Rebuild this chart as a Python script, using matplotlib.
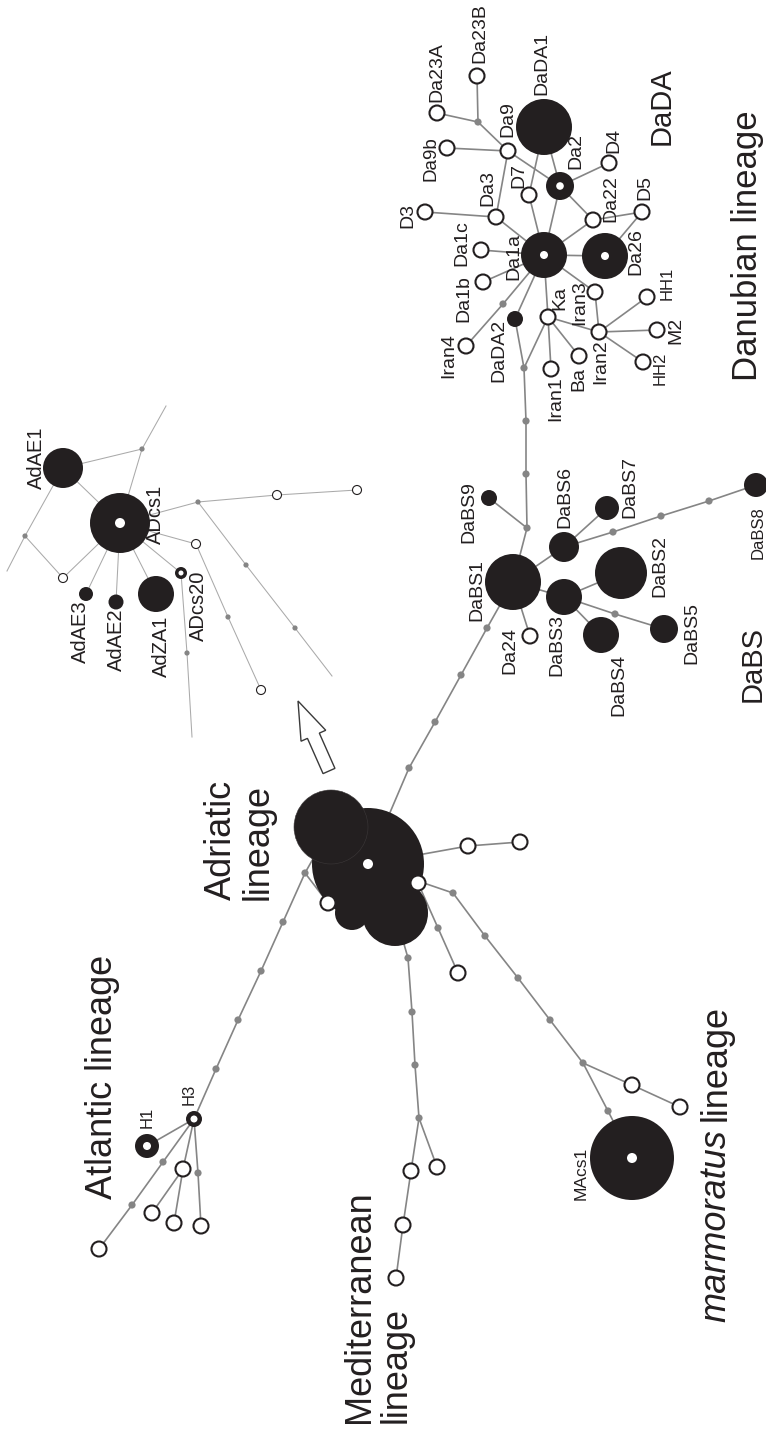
import matplotlib
matplotlib.use('Agg')
import matplotlib.pyplot as plt
from matplotlib.patches import Circle, FancyArrow

plt.rcParams['font.family'] = ['Liberation Sans', 'DejaVu Sans']

W, H = 766, 1431
BLACK = '#231f20'
EDGE = '#858585'
INSET_EDGE = '#aaaaaa'
MEDIAN = '#858585'

# ---------------- data: haplotype nodes (name, x, y, radius, kind) ----------
# kind: f = filled, o = open, r = ring (filled with hole), m = median vector, e = line end
dada_nodes = [
    ('DaDA1', 544, 127, 28, 'f'), ('Da2', 560, 186, 14, 'r'), ('D4', 609, 163, 7, 'o'),
    ('Da9', 508, 151, 7, 'o'), ('Da9b', 447, 148, 7, 'o'), ('Da23A', 437, 113, 7, 'o'),
    ('Da23B', 477, 76, 7, 'o'), ('m1', 478, 122, 0, 'm'), ('D7', 529, 195, 7, 'o'),
    ('Da3', 496, 217, 7, 'o'), ('D3', 425, 212, 7, 'o'), ('Da22', 593, 220, 7, 'o'),
    ('D5', 642, 212, 7, 'o'), ('Da1a', 544, 255, 23, 'r'), ('Da26', 605, 256, 23, 'r'),
    ('Da1c', 481, 250, 7, 'o'), ('Da1b', 483, 282, 7, 'o'), ('Iran3', 595, 292, 7, 'o'),
    ('HH1', 647, 297, 7, 'o'), ('Ka', 548, 317, 7, 'o'), ('DaDA2', 515, 319, 8, 'f'),
    ('m2', 503, 304, 0, 'm'), ('Iran4', 466, 346, 7, 'o'), ('Iran2', 599, 332, 7, 'o'),
    ('M2', 657, 330, 7, 'o'), ('HH2', 643, 362, 7, 'o'), ('m3', 524, 368, 0, 'm'),
    ('Iran1', 551, 369, 7, 'o'), ('Ba', 579, 356, 7, 'o'),
]
dabs_nodes = [
    ('m4', 526, 421, 0, 'm'), ('m5', 526, 474, 0, 'm'), ('m6', 527, 528, 0, 'm'),
    ('DaBS9', 489, 498, 8, 'f'), ('DaBS1', 513, 582, 28, 'f'), ('DaBS6', 564, 547, 15, 'f'),
    ('DaBS7', 607, 508, 12, 'f'), ('m7', 613, 532, 0, 'm'), ('m8', 661, 516, 0, 'm'),
    ('m9', 709, 501, 0, 'm'), ('DaBS8', 756, 485, 12, 'f'), ('DaBS2', 621, 573, 26, 'f'),
    ('DaBS3', 564, 597, 18, 'f'), ('DaBS4', 601, 635, 18, 'f'), ('m10', 615, 614, 0, 'm'),
    ('DaBS5', 664, 629, 14, 'f'), ('Da24', 530, 636, 7, 'o'), ('m11', 487, 628, 0, 'm'),
    ('m12', 461, 675, 0, 'm'), ('m13', 435, 722, 0, 'm'), ('m14', 409, 768, 0, 'm'),
]
adriatic_nodes = [
    ('CM', 368, 864, 56, 'r'), ('CL', 395, 913, 33, 'f'), ('CB', 352, 913, 17, 'f'),
    ('CU', 331, 827, 37, 'f'), ('oC1', 418, 883, 7, 'o'), ('oC2', 328, 903, 7, 'o'),
    ('oR1', 468, 846, 7, 'o'), ('oR2', 520, 842, 7, 'o'), ('m24', 438, 928, 0, 'm'),
    ('oR3', 458, 973, 7, 'o'),
]
atlantic_nodes = [
    ('m15', 305, 873, 0, 'm'), ('m16', 283, 922, 0, 'm'), ('m17', 261, 971, 0, 'm'),
    ('m18', 238, 1020, 0, 'm'), ('m19', 216, 1069, 0, 'm'), ('H3', 194, 1119, 8, 'r'),
    ('H1', 147, 1146, 12, 'r'), ('m31', 163, 1162, 0, 'm'), ('m32', 132, 1205, 0, 'm'),
    ('oA1', 99, 1249, 7, 'o'), ('oA2', 183, 1169, 7, 'o'), ('oA3', 152, 1213, 7, 'o'),
    ('oA4', 174, 1223, 7, 'o'), ('m33', 198, 1173, 0, 'm'), ('oA5', 201, 1226, 7, 'o'),
]
mediterranean_nodes = [
    ('m20', 408, 958, 0, 'm'), ('m21', 412, 1012, 0, 'm'), ('m22', 415, 1065, 0, 'm'),
    ('m23', 419, 1118, 0, 'm'), ('oM1', 411, 1171, 7, 'o'), ('oM2', 403, 1225, 7, 'o'),
    ('oM3', 396, 1278, 7, 'o'), ('oM4', 437, 1167, 7, 'o'),
]
marmoratus_nodes = [
    ('m25', 453, 893, 0, 'm'), ('m26', 485, 936, 0, 'm'), ('m27', 518, 978, 0, 'm'),
    ('m28', 550, 1020, 0, 'm'), ('m29', 583, 1063, 0, 'm'), ('oK1', 632, 1085, 7, 'o'),
    ('oK2', 680, 1107, 7, 'o'), ('m30', 608, 1111, 0, 'm'), ('MAcs1', 632, 1158, 42, 'r'),
]
inset_nodes = [
    ('ADcs1', 120, 523, 30, 'r'), ('AdAE1', 63, 468, 20, 'f'), ('mi1', 142, 449, 0, 'm'),
    ('e1', 166, 406, 0, 'e'), ('mi2', 25, 536, 0, 'm'), ('e2', 7, 571, 0, 'e'),
    ('oi1', 63, 578, 4.5, 'o'), ('AdAE3', 86, 594, 7, 'f'), ('AdAE2', 116, 602, 7.5, 'f'),
    ('AdZA1', 156, 594, 18, 'f'), ('ADcs20', 181, 573, 6, 'r'), ('mi3', 187, 653, 0, 'm'),
    ('e3', 192, 737, 0, 'e'), ('oi2', 196, 544, 4.5, 'o'), ('mi4', 228, 617, 0, 'm'),
    ('oi3', 261, 690, 4.5, 'o'), ('mi5', 198, 502, 0, 'm'), ('oi4', 277, 495, 4.5, 'o'),
    ('oi5', 357, 490, 4.5, 'o'), ('mi6', 246, 565, 0, 'm'), ('mi7', 295, 628, 0, 'm'),
    ('e4', 332, 676, 0, 'e'),
]
hole_radius = {'Da2': 3.8, 'Da1a': 4, 'Da26': 4, 'CM': 5, 'H3': 3.5, 'H1': 4,
               'MAcs1': 5, 'ADcs1': 5, 'ADcs20': 2.5}

# ---------------- data: mutational connections ----------------
main_edges = [
    ('DaDA1', 'D7'), ('D7', 'Da1a'), ('DaDA1', 'Da2'), ('Da2', 'Da1a'), ('Da2', 'D4'),
    ('Da9', 'Da2'), ('Da9', 'Da9b'), ('Da9', 'm1'), ('m1', 'Da23A'), ('m1', 'Da23B'),
    ('Da9', 'Da3'), ('Da3', 'D3'), ('Da3', 'Da1a'), ('Da2', 'Da22'), ('Da22', 'Da1a'),
    ('Da22', 'D5'), ('Da26', 'D5'), ('Da1a', 'Da26'), ('Da1a', 'Da1c'), ('Da1a', 'Da1b'),
    ('Da1a', 'Iran3'), ('Iran3', 'Iran2'), ('Da1a', 'm2'), ('m2', 'Iran4'),
    ('Da1a', 'DaDA2'), ('Da1a', 'Ka'), ('Ka', 'Iran1'), ('Ka', 'Ba'), ('Ka', 'Iran2'),
    ('Ka', 'm3'), ('DaDA2', 'm3'), ('Iran2', 'HH1'), ('Iran2', 'M2'), ('Iran2', 'HH2'),
    ('m3', 'm4'), ('m4', 'm5'), ('m5', 'm6'), ('m6', 'DaBS1'), ('m6', 'DaBS9'),
    ('DaBS1', 'DaBS6'), ('DaBS6', 'DaBS7'), ('DaBS6', 'm7'), ('m7', 'm8'), ('m8', 'm9'),
    ('m9', 'DaBS8'), ('DaBS1', 'DaBS3'), ('DaBS3', 'DaBS2'), ('DaBS3', 'DaBS4'),
    ('DaBS3', 'm10'), ('m10', 'DaBS5'), ('DaBS1', 'Da24'), ('DaBS1', 'm11'),
    ('m11', 'm12'), ('m12', 'm13'), ('m13', 'm14'), ('m14', 'CM'),
    ('CU', 'm15'), ('m15', 'oC2'), ('m15', 'm16'), ('m16', 'm17'), ('m17', 'm18'),
    ('m18', 'm19'), ('m19', 'H3'), ('H3', 'H1'), ('H3', 'm31'), ('m31', 'm32'),
    ('m32', 'oA1'), ('H3', 'oA2'), ('oA2', 'oA3'), ('oA2', 'oA4'), ('H3', 'm33'),
    ('m33', 'oA5'),
    ('CL', 'm20'), ('m20', 'm21'), ('m21', 'm22'), ('m22', 'm23'), ('m23', 'oM1'),
    ('oM1', 'oM2'), ('oM2', 'oM3'), ('m23', 'oM4'),
    ('CM', 'oR1'), ('oR1', 'oR2'), ('oC1', 'm24'), ('m24', 'oR3'),
    ('CM', 'm25'), ('m25', 'm26'), ('m26', 'm27'), ('m27', 'm28'), ('m28', 'm29'),
    ('m29', 'oK1'), ('oK1', 'oK2'), ('m29', 'm30'), ('m30', 'MAcs1'),
]
inset_edges = [
    ('ADcs1', 'AdAE1'), ('AdAE1', 'mi1'), ('ADcs1', 'mi1'), ('mi1', 'e1'),
    ('AdAE1', 'mi2'), ('mi2', 'e2'), ('mi2', 'oi1'), ('oi1', 'ADcs1'),
    ('ADcs1', 'AdAE3'), ('ADcs1', 'AdAE2'), ('ADcs1', 'AdZA1'), ('ADcs1', 'ADcs20'),
    ('ADcs20', 'mi3'), ('mi3', 'e3'), ('ADcs1', 'oi2'), ('oi2', 'mi4'), ('mi4', 'oi3'),
    ('ADcs1', 'mi5'), ('mi5', 'oi4'), ('oi4', 'oi5'), ('mi5', 'mi6'), ('mi6', 'mi7'),
    ('mi7', 'e4'),
]

# ---------------- data: labels (text, x, y, size in pt) ----------------
node_labels = [
    ('Da23A', 437, 72, 14), ('Da23B', 480, 33, 14), ('DaDA1', 542, 63, 14),
    ('Da9', 508, 119, 14), ('Da9b', 431, 159, 13.5), ('Da2', 576, 151, 14),
    ('D4', 614, 140, 14), ('D7', 519, 175, 14), ('Da3', 488, 188, 14),
    ('D3', 408, 215, 14), ('Da22', 611, 199, 14), ('D5', 645, 188, 14),
    ('Da1c', 462, 243, 14), ('Da1a', 514, 257, 14), ('Da26', 636, 252, 14),
    ('Da1b', 464, 299, 14), ('HH1', 667, 283, 12), ('Iran3', 580, 303, 14),
    ('Ka', 560, 298, 14), ('M2', 676, 330, 14), ('Iran4', 449, 356, 14),
    ('DaDA2', 499, 350, 14), ('Iran1', 556, 399, 14), ('Ba', 579, 379, 14),
    ('Iran2', 601, 362, 14), ('HH2', 660, 368, 12),
    ('DaBS9', 469, 512, 14), ('DaBS6', 565, 497, 14), ('DaBS7', 630, 487, 14),
    ('DaBS1', 477, 590, 14), ('DaBS2', 660, 566, 14), ('DaBS3', 557, 645, 14),
    ('DaBS4', 619, 685, 14), ('DaBS5', 692, 633, 14), ('Da24', 510, 650, 14),
    ('DaBS8', 758, 533, 12),
    ('H1', 147, 1117, 12), ('H3', 189, 1094, 12), ('MAcs1', 581, 1173, 12.5),
    ('AdAE1', 36, 458, 14.5), ('ADcs1', 155, 514, 14.5), ('AdAE3', 80, 632, 14.5),
    ('AdAE2', 116, 640, 14.5), ('AdZA1', 161, 646, 14.5), ('ADcs20', 198, 606, 14.5),
]
group_labels = [
    ('DaDA', 662, 106, 21), ('Danubian lineage', 748, 246, 25), ('DaBS', 753, 664, 21),
    ('Atlantic lineage', 103, 1077, 26),
]
block_labels = [  # two-line labels: (text, x-centre, bottom y, size)
    ('Adriatic\nlineage', 240, 900, 26), ('Mediterranean\nlineage', 378, 1423, 26),
]
marm_words = ('marmoratus', 'lineage')
marm_pos = (716, 1322, 26)

# ---------------- drawing ----------------
fig = plt.figure(figsize=(W / 100, H / 100), dpi=100)
ax = fig.add_axes([0, 0, 1, 1])
ax.set_xlim(0, W)
ax.set_ylim(H, 0)
ax.axis('off')

main_nodes = (dada_nodes + dabs_nodes + adriatic_nodes + atlantic_nodes
              + mediterranean_nodes + marmoratus_nodes)
pos = {n[0]: (n[1], n[2]) for n in main_nodes + inset_nodes}

for a, b in main_edges:
    (x0, y0), (x1, y1) = pos[a], pos[b]
    ax.plot([x0, x1], [y0, y1], color=EDGE, lw=1.2, zorder=1, solid_capstyle='round')
for a, b in inset_edges:
    (x0, y0), (x1, y1) = pos[a], pos[b]
    ax.plot([x0, x1], [y0, y1], color=INSET_EDGE, lw=0.75, zorder=1)


def draw_nodes(nodes, inset=False):
    for name, x, y, r, kind in nodes:
        if kind == 'e':
            continue
        if kind == 'm':
            ax.add_patch(Circle((x, y), 2.6 if inset else 3.6, fc=MEDIAN, ec='none', zorder=2))
        elif kind == 'o':
            ax.add_patch(Circle((x, y), r + (0 if inset else 0.5), fc='white', ec=BLACK,
                                lw=0.8 if inset else 1.5, zorder=4))
        else:
            edge = dict(ec='#3c3839', lw=0.4) if name == 'CU' else dict(ec='none')
            ax.add_patch(Circle((x, y), r, fc=BLACK, zorder=3, **edge))
            if kind == 'r':
                ax.add_patch(Circle((x, y), hole_radius[name], fc='white', ec='none', zorder=3.5))


draw_nodes(main_nodes)
draw_nodes(inset_nodes, inset=True)

# zoom arrow (outline) pointing from the Adriatic cluster to the inset
tail = (329, 771)
tip = (298, 701)
ax.add_patch(FancyArrow(tail[0], tail[1], tip[0] - tail[0], tip[1] - tail[1],
                        width=13, head_width=27, head_length=38,
                        length_includes_head=True, fc='white', ec='#3a3a3a',
                        lw=1.0, zorder=5))

for t, x, y, s in node_labels:
    ax.text(x, y, t, rotation=90, ha='center', va='center', fontsize=s,
            color=BLACK, zorder=6)
for t, x, y, s in group_labels:
    ax.text(x, y, t, rotation=90, ha='center', va='center', fontsize=s,
            color=BLACK, zorder=6)
for t, x, y, s in block_labels:
    ax.text(x, y, t, rotation=90, ha='center', va='bottom', fontsize=s,
            multialignment='left', linespacing=1.05, color=BLACK, zorder=6)

mx, my, ms = marm_pos
t1 = ax.text(mx, my, marm_words[0], rotation=90, ha='center', va='bottom',
             fontsize=ms, style='italic', color=BLACK, zorder=6)
fig.canvas.draw()
h1 = t1.get_window_extent().height
ax.text(mx, my - h1 - ms * 0.3, marm_words[1], rotation=90, ha='center', va='bottom',
        fontsize=ms, color=BLACK, zorder=6)

fig.savefig('out.png', dpi=100, facecolor='white')
